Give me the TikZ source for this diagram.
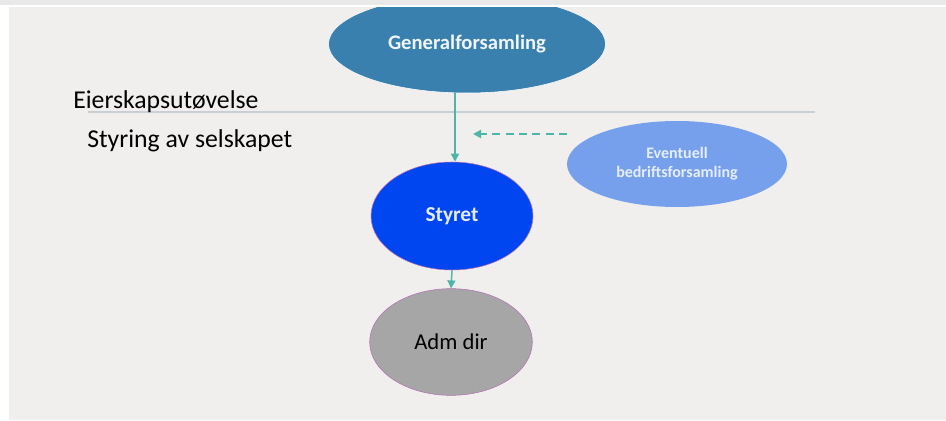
\documentclass[tikz,border=0pt]{standalone}
\usepackage{fontspec}
\setmainfont{Carlito}
\usetikzlibrary{arrows.meta,shapes.geometric}
\definecolor{paper}{RGB}{241,239,237}
\definecolor{strip}{RGB}{233,233,233}
\definecolor{gfblue}{RGB}{58,128,174}
\definecolor{pale}{RGB}{118,160,236}
\definecolor{board}{RGB}{0,70,240}
\definecolor{ceo}{RGB}{166,166,166}
\definecolor{rim}{RGB}{180,110,180}
\definecolor{flow}{RGB}{77,182,168}
\definecolor{rule}{RGB}{201,206,212}

\begin{document}
\begin{tikzpicture}[x=0.75pt,y=-0.75pt,
    organ/.style={ellipse,inner sep=0pt,font=\fontsize{17}{20}\selectfont},
    level/.style={anchor=base west,inner sep=0pt,font=\fontsize{19.3}{23}\selectfont},
    link/.style={-{Triangle[length=6pt,width=6pt]},flow,line width=1.1pt}]
  % canvas
  \useasboundingbox (0,0) rectangle (946,421);
  \fill[strip] (0,0) rectangle (946,5);
  \fill[paper] (9,7) rectangle (946,420);
  % levels
  \draw[rule,line width=1.5pt] (88,112) -- (815,112);
  \node[level] (eier) at (73,108) {Eierskapsutøvelse};
  \node[level] (styring) at (87,147) {Styring av selskapet};
  % bodies
  \begin{scope}
    \clip (9,7) rectangle (946,420);
    \node[organ,fill=gfblue,draw=white,minimum width=207.75pt,minimum height=73.5pt,text=white!92!gfblue,font=\bfseries\fontsize{15.5}{19}\selectfont] (gf) at (467,44) {Generalforsamling};
  \end{scope}
  \node[organ,fill=pale,minimum width=165pt,minimum height=64.5pt,text=white!82!pale,align=center,font=\bfseries\fontsize{12}{14.25}\selectfont] (bf) at (677,164) {Eventuell\\bedriftsforsamling};
  \node[organ,fill=board,draw=rim,minimum width=121.5pt,minimum height=81pt,text=white!90!board,font=\bfseries\fontsize{16}{19}\selectfont] (st) at (452,216) {Styret};
  \node[organ,fill=ceo,draw=rim,minimum width=122pt,minimum height=80pt] (adm) at (451,342) {Adm dir};
  % links
  \draw[link] ([xshift=2.25pt]gf.south -| st.north) -- ([xshift=2.25pt]st.north);
  \draw[link] (st.south) -- (adm.north);
  \coordinate (dfrom) at (567,134);
  \coordinate (dto) at (473,134);
  \draw[link,dash pattern=on 6pt off 4pt,line width=1.5pt] (dfrom) -- (dto);
\end{tikzpicture}
\end{document}
